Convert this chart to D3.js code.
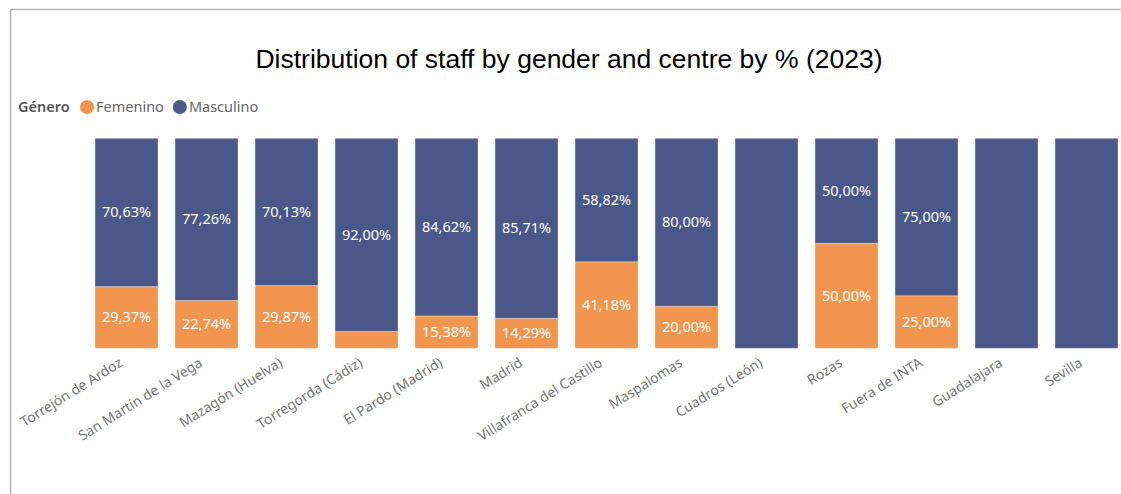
<!DOCTYPE html>
<html>
<head>
<meta charset="utf-8">
<script src="https://cdn.jsdelivr.net/npm/d3@7"></script>
<style>
  html, body { margin: 0; padding: 0; background: #fff; }
  svg { display: block; }
</style>
</head>
<body>
<svg id="chart" width="1121" height="494"></svg>
<script>
// Centres and share of staff by gender (%)
const centres = [
  "Torrejón de Ardoz", "San Martín de la Vega", "Mazagón (Huelva)", "Torregorda (Cádiz)",
  "El Pardo (Madrid)", "Madrid", "Villafranca del Castillo", "Maspalomas",
  "Cuadros (León)", "Rozas", "Fuera de INTA", "Guadalajara", "Sevilla"
];
const femenino  = [29.37, 22.74, 29.87, 8.00, 15.38, 14.29, 41.18, 20.00, 0, 50.00, 25.00, 0, 0];
const masculino = [70.63, 77.26, 70.13, 92.00, 84.62, 85.71, 58.82, 80.00, 100, 50.00, 75.00, 100, 100];
const seriesNames = ["Femenino", "Masculino"];
const seriesColors = ["#F2954F", "#4A5788"];

const svg = d3.select("#chart");
const W = 1121, H = 494;

// frame
svg.append("path")
  .attr("d", `M10.5,${H} V9.5 H${W}`)
  .attr("fill", "none").attr("stroke", "#b3b3b3").attr("stroke-width", 1.5);

// title
svg.append("text")
  .attr("x", 569).attr("y", 68)
  .attr("text-anchor", "middle")
  .attr("font-family", "Liberation Sans, Arial, sans-serif")
  .attr("font-size", 26.5).attr("fill", "#000")
  .text("Distribution of staff by gender and centre by % (2023)");

// legend
const leg = svg.append("g").attr("font-family", "Noto Sans, Open Sans, sans-serif").attr("font-size", 14.5);
leg.append("text").attr("x", 18).attr("y", 112).attr("fill", "#555").attr("font-weight", 600).text("Género");
let lx = 80;
seriesNames.forEach((n, i) => {
  leg.append("circle").attr("cx", lx + 7).attr("cy", 107).attr("r", 7).attr("fill", seriesColors[i]);
  const t = leg.append("text").attr("x", lx + 16).attr("y", 112).attr("fill", "#666").text(n);
  lx += 16 + t.node().getComputedTextLength() + 9;
});

// scales
const x = d3.scaleBand().domain(centres).range([86.5, 1126.5])
  .paddingInner(0.2125).paddingOuter(0.10625);
const y = d3.scaleLinear().domain([0, 100]).range([348.3, 138.3]);

const rows = centres.map((c, i) => ({ centre: c, Femenino: femenino[i], Masculino: masculino[i] }));
const stacked = d3.stack().keys(seriesNames)(rows);

const layers = svg.append("g").selectAll("g").data(stacked).join("g")
  .attr("fill", (d, i) => seriesColors[i]);

layers.selectAll("rect").data(d => d).join("rect")
  .attr("x", d => x(d.data.centre))
  .attr("width", x.bandwidth())
  .attr("y", d => y(d[1]))
  .attr("height", d => y(d[0]) - y(d[1]))
  .attr("stroke", "rgba(255,255,255,0.35)")
  .attr("stroke-width", 1);

// data labels (only where the segment is tall enough)
const fmt = v => v.toFixed(2).replace(".", ",") + "%";
const labels = svg.append("g")
  .attr("font-family", "Noto Sans, Open Sans, sans-serif")
  .attr("font-size", 14.5).attr("fill", "#fff").attr("text-anchor", "middle");
stacked.forEach(layer => {
  layer.forEach(d => {
    const v = d[1] - d[0];
    const h = y(d[0]) - y(d[1]);
    if (v <= 0 || v >= 100 || h < 25) return;
    labels.append("text")
      .attr("x", x(d.data.centre) + x.bandwidth() / 2)
      .attr("y", (y(d[0]) + y(d[1])) / 2 + 5)
      .text(fmt(v));
  });
});

// category axis
const axis = svg.append("g").attr("transform", "translate(0,348.3)")
  .call(d3.axisBottom(x).tickSize(0).tickPadding(0));
axis.select(".domain").remove();
axis.selectAll("text")
  .attr("font-family", "Noto Sans, Open Sans, sans-serif")
  .attr("font-size", 14).attr("fill", "#777")
  .attr("text-anchor", "end")
  .attr("dy", 0)
  .attr("transform", "translate(-3,17) rotate(-32)");
</script>
</body>
</html>
